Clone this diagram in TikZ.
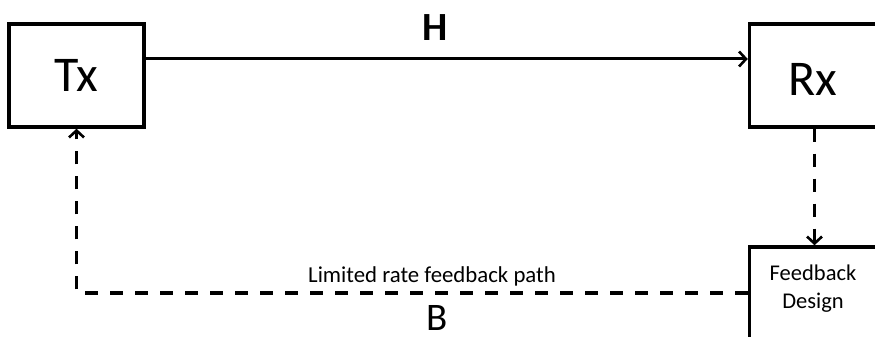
\documentclass[tikz,border=0pt]{standalone}
\usepackage{fontspec}
\setmainfont{Carlito}
\usetikzlibrary{arrows.meta}
\begin{document}
\begin{tikzpicture}[x=1pt,y=-1pt,
  box/.style={draw,line width=3.4pt,inner sep=0pt},
  solidarrow/.style={line width=3pt,-{Straight Barb[length=7pt,width=15pt,line width=2.6pt]}},
  dashline/.style={line width=3.4pt,dash pattern=on 13pt off 12pt},
  dasharrow/.style={dashline,-{Straight Barb[length=7pt,width=15pt,line width=2.6pt]}}]
\clip (0,0) rectangle (875,337);
\fill[white] (0,0) rectangle (875,337);
\node[box,minimum width=135pt,minimum height=103pt] (tx) at (76.5,75.5) {\fontsize{50}{60}\selectfont Tx};
\node[box,minimum width=130pt,minimum height=103pt] (rx) at (814.5,75.5) {};
\node (rxl) at (813,79) {\fontsize{50}{60}\selectfont Rx};
\node[box,minimum width=130pt,minimum height=92pt] (fb) at (814.5,293) {};
\node[align=center,font=\fontsize{22.5}{28}\selectfont] (fbl) at (813,289) {Feedback\\Design};
\coordinate (hy) at (0,59);
\draw[solidarrow] (tx.east |- hy) -- (rx.west |- hy);
\node[font=\fontsize{40}{48}\selectfont\bfseries] (H) at (435,28) {H};
\draw[dasharrow] (rx.south) -- (fb.north);
\draw[dasharrow] (fb.west) -| (tx.south);
\node[font=\fontsize{22.8}{27}\selectfont] (lab) at (432,276) {Limited rate feedback path};
\node[font=\fontsize{39}{46}\selectfont,inner sep=0pt,anchor=base] (B) at (437,330) {B};
\end{tikzpicture}
\end{document}
